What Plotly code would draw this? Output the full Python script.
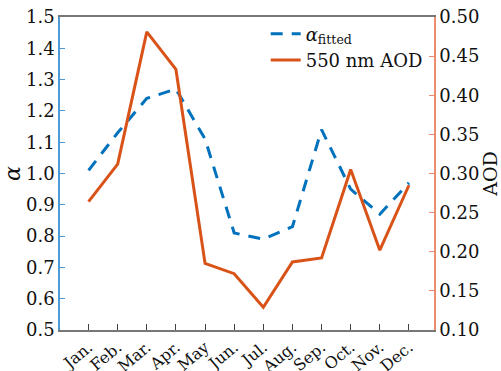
import plotly.graph_objects as go

months = ["Jan.", "Feb.", "Mar.", "Apr.", "May", "Jun.", "Jul.", "Aug.", "Sep.", "Oct.", "Nov.", "Dec."]
alpha_fitted = [1.01, 1.13, 1.24, 1.27, 1.11, 0.81, 0.79, 0.83, 1.14, 0.95, 0.87, 0.97]
aod_550 = [0.264, 0.312, 0.481, 0.433, 0.185, 0.172, 0.129, 0.187, 0.192, 0.305, 0.202, 0.285]

xpos = list(range(len(months)))
FONT = "DejaVu Serif"
BLUE = "#0072BD"
ORANGE = "#D95319"
LBLUE = "#4d9ad6"
LORANGE = "#ec8c6c"

fig = go.Figure()
fig.add_trace(go.Scatter(x=xpos, y=alpha_fitted, mode="lines", name="<i>α</i><sub>fitted</sub>",
                         line=dict(color=BLUE, width=3, dash="12px,9px"), yaxis="y"))
fig.add_trace(go.Scatter(x=xpos, y=aod_550, mode="lines", name="550 nm AOD",
                         line=dict(color=ORANGE, width=3), yaxis="y2"))

fig.update_layout(
    width=501, height=371,
    margin=dict(l=60, r=67, t=17, b=41, autoexpand=False),
    paper_bgcolor="white", plot_bgcolor="white",
    font=dict(family=FONT, size=18, color="#111"),
    showlegend=True,
    legend=dict(x=0.55, y=1.005, xanchor="left", yanchor="top", bgcolor="rgba(0,0,0,0)",
                font=dict(family=FONT, size=18), tracegroupgap=0, itemwidth=30),
    xaxis=dict(range=[-0.98, 11.86], tickvals=xpos, ticktext=months, tickangle=-40,
               showgrid=False, zeroline=False, showline=True, linecolor="#777", linewidth=1.5,
               mirror=True, ticks="inside", ticklen=6, tickcolor="#444", automargin=False,
               tickfont=dict(family=FONT, size=16)),
    yaxis=dict(range=[0.5, 1.5], dtick=0.1, tickformat=".1f", showgrid=False, zeroline=False,
               showline=True, linecolor=LBLUE, linewidth=1.5, ticks="inside", ticklen=5,
               tickcolor=LBLUE, tickfont=dict(family=FONT, size=18), automargin=False,
               title=dict(text="<i>α</i>", font=dict(family=FONT, size=22), standoff=8)),
    yaxis2=dict(range=[0.1, 0.5], dtick=0.05, tickformat=".2f", overlaying="y", side="right",
                showgrid=False, zeroline=False, showline=True, linecolor=LORANGE, linewidth=1.5,
                ticks="inside", ticklen=5, tickcolor=LORANGE, tickfont=dict(family=FONT, size=18),
                automargin=False,
                title=dict(text="AOD", font=dict(family=FONT, size=19), standoff=4)),
)

fig.write_html("out.html", config={"displayModeBar": False},
               post_script="document.body.style.margin='0';document.body.style.padding='0';")
